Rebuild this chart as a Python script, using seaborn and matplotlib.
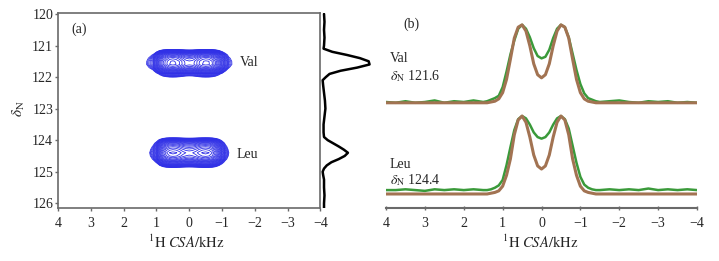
import numpy as np
import seaborn as sns
import matplotlib
matplotlib.use('Agg')
import matplotlib.pyplot as plt

# 1H CSA axis (kHz), shared by all slice profiles
csa_khz = [4.0, 3.75, 3.5, 3.25, 3.0, 2.75, 2.5, 2.25, 2.0, 1.75,
           1.5, 1.4, 1.3, 1.2, 1.1, 1.0, 0.9, 0.8, 0.7, 0.6, 0.5, 0.4, 0.3, 0.2, 0.1,
           0.0, -0.1, -0.2, -0.3, -0.4, -0.5, -0.6, -0.7, -0.8, -0.9, -1.0, -1.1, -1.2,
           -1.3, -1.4, -1.5,
           -1.75, -2.0, -2.25, -2.5, -2.75, -3.0, -3.25, -3.5, -3.75, -4.0]

# Val slice (dN 121.6): experiment (green) and simulation (brown)
val_exp = [0.01, 0.0, 0.02, 0.0, 0.01, 0.03, 0.0, 0.02, 0.01, 0.03,
           0.01, 0.02, 0.04, 0.06, 0.09, 0.2, 0.4, 0.62, 0.8, 0.95, 1.0, 0.95, 0.84, 0.7, 0.6,
           0.57, 0.59, 0.68, 0.83, 0.95, 1.0, 0.97, 0.84, 0.63, 0.42, 0.24, 0.12, 0.06,
           0.04, 0.02, 0.01,
           0.02, 0.03, 0.01, 0.0, 0.02, 0.01, 0.02, 0.0, 0.01, 0.0]
val_sim = [0.0, 0.0, 0.0, 0.0, 0.0, 0.0, 0.0, 0.0, 0.0, 0.0,
           0.0, 0.0, 0.01, 0.02, 0.05, 0.13, 0.3, 0.56, 0.83, 0.97, 1.0, 0.92, 0.73, 0.5, 0.36,
           0.32, 0.36, 0.5, 0.73, 0.92, 1.0, 0.97, 0.83, 0.56, 0.3, 0.13, 0.05, 0.02,
           0.01, 0.0, 0.0,
           0.0, 0.0, 0.0, 0.0, 0.0, 0.0, 0.0, 0.0, 0.0, 0.0]

# Leu slice (dN 124.4)
leu_exp = [0.05, 0.05, 0.06, 0.05, 0.04, 0.06, 0.05, 0.06, 0.05, 0.06,
           0.05, 0.05, 0.06, 0.08, 0.11, 0.18, 0.37, 0.6, 0.82, 0.96, 1.0, 0.97, 0.89, 0.79, 0.73,
           0.71, 0.73, 0.79, 0.89, 0.97, 1.0, 0.96, 0.84, 0.62, 0.4, 0.22, 0.12, 0.08,
           0.06, 0.05, 0.05,
           0.06, 0.05, 0.06, 0.05, 0.07, 0.05, 0.06, 0.05, 0.06, 0.05]
leu_sim = [0.0, 0.0, 0.0, 0.0, 0.0, 0.0, 0.0, 0.0, 0.0, 0.0,
           0.0, 0.0, 0.01, 0.02, 0.04, 0.1, 0.24, 0.45, 0.76, 0.95, 1.0, 0.92, 0.73, 0.5, 0.36,
           0.32, 0.36, 0.5, 0.73, 0.92, 1.0, 0.95, 0.76, 0.45, 0.24, 0.1, 0.04, 0.02,
           0.01, 0.0, 0.0,
           0.0, 0.0, 0.0, 0.0, 0.0, 0.0, 0.0, 0.0, 0.0, 0.0]

# 15N projection (ppm vs intensity)
proj_ppm = [120.0, 120.25, 120.5, 120.75, 121.0, 121.1, 121.2, 121.3, 121.4, 121.5,
            121.6, 121.7, 121.8, 121.9, 122.0, 122.1, 122.25, 122.5, 122.75, 123.0,
            123.25, 123.5, 123.75, 123.9, 124.0, 124.1, 124.2, 124.3, 124.4, 124.5,
            124.6, 124.7, 124.8, 124.9, 125.0, 125.1, 125.25, 125.5, 125.75, 126.0, 126.16]
proj_int = [0.0, 0.01, 0.0, 0.01, 0.0, -0.01, 0.18, 0.5, 0.78, 0.97,
            0.99, 0.72, 0.36, 0.12, 0.04, -0.03, -0.02, 0.0, 0.02, 0.03,
            0.01, -0.01, -0.01, 0.0, 0.08, 0.2, 0.32, 0.43, 0.52, 0.45,
            0.32, 0.16, 0.06, 0.0, -0.03, -0.02, 0.0, 0.0, 0.01, 0.0, 0.0]

x_ticks = [4, 3, 2, 1, 0, -1, -2, -3, -4]
y_ticks = [120, 121, 122, 123, 124, 125, 126]

sns.set_theme(style='white')
plt.rcParams['font.family'] = ['Liberation Serif', 'DejaVu Serif']
plt.rcParams['mathtext.fontset'] = 'stix'

GREEN = '#3a9a3a'
BROWN = '#a27352'
BLUE = '#3030e6'
SPINE = '#6a6a6a'
xlabel = r'$^{1}\mathrm{H}\ \mathit{CSA}\mathrm{/kHz}$'

fig = plt.figure(figsize=(7.19, 2.61), dpi=100)
ax_a = fig.add_axes([0.0807, 0.2019, 0.365, 0.747])
ax_p = fig.add_axes([0.4465, 0.2019, 0.0709, 0.747])
ax_b = fig.add_axes([0.5369, 0.203, 0.4325, 0.7586])

# (a) 2D contour map, built from the measured slice and projection profiles
csa = np.array(csa_khz)
ppm = np.array(proj_ppm)
inten = np.array(proj_int)
levels = np.geomspace(0.04, 0.95, 24)
for lo, hi, slice_prof in [(120.75, 122.5, val_exp), (123.5, 125.5, leu_exp)]:
    m = (ppm >= lo) & (ppm <= hi)
    prof_n = inten[m] / inten[m].max()
    sp = np.array(slice_prof)
    sp = (sp - sp.min()) / (sp.max() - sp.min())
    z = np.outer(prof_n, sp)
    ax_a.contour(csa, ppm[m], z, levels=levels, colors=BLUE, linewidths=0.6)

ax_a.set_xlim(4, -4)
ax_a.set_ylim(126.16, 119.98)
ax_a.set_xticks(x_ticks)
ax_a.set_yticks(y_ticks)
ax_a.tick_params(axis='both', direction='out', length=2, width=1, color=SPINE,
                 labelsize=10, pad=1.5, bottom=True, left=True)
ax_a.tick_params(axis='x', pad=4)
for s in ax_a.spines.values():
    s.set_color(SPINE)
    s.set_linewidth(1.2)
ax_a.set_ylabel(r'$\delta_{\rm N}$', fontsize=11)
ax_a.yaxis.set_label_coords(-0.12, 0.51)
ax_a.set_xlabel(xlabel, fontsize=10.5)
ax_a.xaxis.set_label_coords(0.49, -0.132)
ax_a.text(0.052, 0.92, '(a)', transform=ax_a.transAxes, fontsize=10, va='center')
ax_a.text(-1.54, 121.55, 'Val', fontsize=10, va='center')
ax_a.text(-1.43, 124.47, 'Leu', fontsize=10, va='center')

# 15N projection on the right side of (a)
sns.lineplot(x=proj_int, y=proj_ppm, orient='y', sort=False, estimator=None,
             color='black', lw=1.8, ax=ax_p)
ax_p.set_ylim(126.16, 119.98)
ax_p.set_xlim(-0.065, 1.043)
ax_p.axis('off')

# (b) CSA slices
val_off = 1.17
for xs, ys, col, lw in [(csa_khz, leu_exp, GREEN, 1.8), (csa_khz, leu_sim, BROWN, 2.2)]:
    sns.lineplot(x=xs, y=ys, estimator=None, color=col, lw=lw, ax=ax_b)
for xs, ys, col, lw in [(csa_khz, val_exp, GREEN, 1.8), (csa_khz, val_sim, BROWN, 2.2)]:
    sns.lineplot(x=xs, y=np.array(ys) + val_off, estimator=None, color=col, lw=lw, ax=ax_b)

ax_b.set_xlim(4, -4)
ax_b.set_ylim(-0.18, 2.36)
ax_b.set_xticks(x_ticks)
ax_b.set_yticks([])
for side in ['left', 'right', 'top']:
    ax_b.spines[side].set_visible(False)
ax_b.spines['bottom'].set_color(SPINE)
ax_b.spines['bottom'].set_linewidth(1.5)
ax_b.tick_params(axis='x', direction='inout', length=3, width=1, color=SPINE,
                 labelsize=10, pad=5, bottom=True)
ax_b.set_xlabel(xlabel, fontsize=10.5)
ax_b.xaxis.set_label_coords(0.495, -0.131)
ax_b.text(3.56, 2.18, '(b)', fontsize=10, va='center')
ax_b.text(3.9, 1.74, 'Val', fontsize=10, va='center')
ax_b.text(3.9, 1.51, r'$\delta_{\rm N}$ 121.6', fontsize=10, va='center')
ax_b.text(3.9, 0.38, 'Leu', fontsize=10, va='center')
ax_b.text(3.9, 0.18, r'$\delta_{\rm N}$ 124.4', fontsize=10, va='center')

fig.savefig('out.png', dpi=100)
